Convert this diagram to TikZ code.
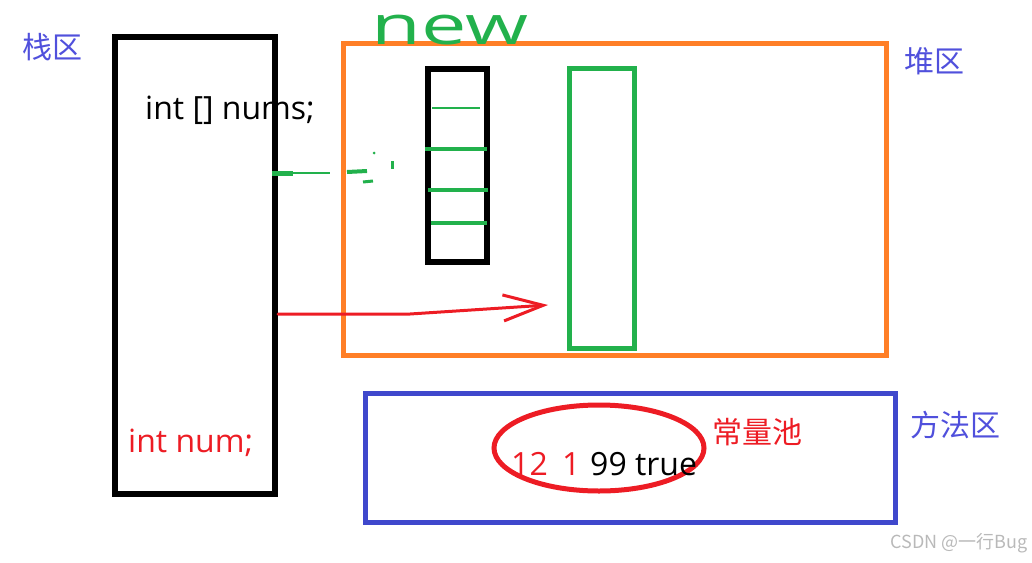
\documentclass[tikz,border=0pt]{standalone}
\usepackage{fontspec}
\setmainfont{Noto Sans CJK SC}
\newfontfamily\codefont{Open Sans}
\usetikzlibrary{positioning, calc, shapes.geometric, arrows.meta}
\definecolor{heaporange}{RGB}{255,127,39}
\definecolor{areablue}{RGB}{63,72,204}
\definecolor{labelblue}{RGB}{80,80,220}
\definecolor{newgreen}{RGB}{34,177,76}
\definecolor{penred}{RGB}{237,28,36}
\definecolor{markgray}{RGB}{185,185,185}

\begin{document}
\begin{tikzpicture}[x = 1pt, y = -1pt,
			area/.style = {rectangle, draw, line width = 5pt, inner sep = 0pt},
			arealabel/.style = {text = labelblue, font = \fontsize{30}{32}\selectfont, inner sep = 0pt},
			code/.style = {font = \codefont\fontsize{32}{34}\selectfont, inner sep = 0pt, anchor = base west},
			pen/.style = {line width = 3pt, line cap = round, line join = round},
		]
		\useasboundingbox (0,0) rectangle (1032,562);

		% the three memory areas
		\node[area, line width = 6pt, minimum width = 160pt, minimum height = 457pt](stack) at (195,265.5){};
		\node[area, draw = heaporange, minimum width = 543pt, minimum height = 312pt](heap) at (614.5,199){};
		\node[area, draw = areablue, minimum width = 530pt, minimum height = 129pt](method) at (630,457.5){};

		\node[arealabel](stacklbl) at (52,47){栈区};
		\node[arealabel](heaplbl) at (934,61){堆区};
		\node[arealabel](methodlbl) at (955,425){方法区};

		% objects in the heap
		\node[area, line width = 6pt, minimum width = 59pt, minimum height = 193pt](arr) at (457.5,165.5){};
		\node[area, draw = newgreen, minimum width = 65pt, minimum height = 280pt](obj) at (601.5,208){};
		\foreach \yy/\xa/\xb/\w in {108/432/480/1.5, 149/425/487/4, 190/428/488/4, 223/431/487/4}
			\draw[newgreen, line width = \w pt](\xa,\yy)--(\xb,\yy);
		\node[text = newgreen, font = \codefont\fontsize{54}{54}\selectfont, inner sep = 0pt, anchor = base, xscale = 1.5](newlbl) at (450,44){new};

		% variables on the stack
		\node[code](nums) at (145,119){int [] nums;};
		\node[code, text = penred](num) at (128,452){int num;};

		% references
		\coordinate(gap) at (330,173);
		\draw[newgreen, line width = 2pt](stack.east |- gap)--(gap);
		\draw[newgreen, line width = 5pt](272,173)--(293,173);
		\draw[newgreen, line width = 4pt](347,172)--(367,171);
		\draw[newgreen, line width = 3pt](363,182)--(373,181);
		\draw[newgreen, line width = 3pt](392,161)--(392,169);
		\fill[newgreen](374,153) circle (1.5pt);

		\coordinate(tip) at (548,305);
		\draw[pen, penred, -{Straight Barb[length = 40pt, width = 26pt]}](stack.east |- 0,314)--(410,314)--(tip);

		% constant pool
		\node[ellipse, draw = penred, line width = 5pt, minimum width = 210pt, minimum height = 86pt](pool) at (599,448){};
		\node[text = penred, font = \fontsize{30}{32}\selectfont, inner sep = 0pt](poollbl) at (757,432){常量池};
		\node[code, text = penred](c12) at (511,475){12};
		\node[code, text = penred](c1) at (562,475){1};
		\node[code](c99) at (590,475){99 true};

		\node[text = markgray, font = \fontsize{18}{20}\selectfont, inner sep = 0pt, anchor = east](mark) at (1028,543){CSDN @一行Bug};

	\end{tikzpicture}
\end{document}
